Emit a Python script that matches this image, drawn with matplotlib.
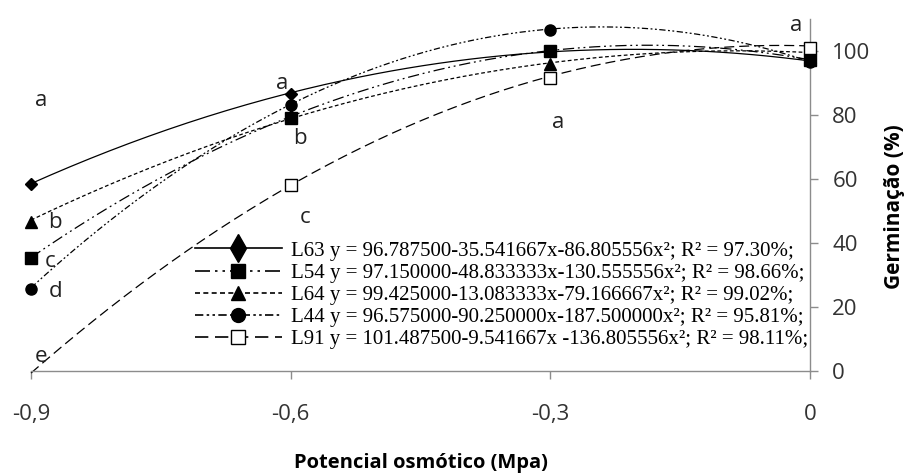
import numpy as np
import matplotlib.pyplot as plt

# potencial osmotico (Mpa)
potencial = [-0.9, -0.6, -0.3, 0.0]

# germinacao (%) observada por lote
L63 = [58.5, 86.5, 99.8, 96.8]
L54 = [35.3, 79.0, 100.0, 97.0]
L64 = [46.5, 80.0, 96.0, 98.0]
L44 = [25.5, 83.0, 106.5, 96.5]
L91 = [0.0, 58.0, 91.5, 101.0]

# coeficientes da regressao (a, b, c) -> y = a + b*x + c*x^2
coef_L63 = [96.7875, -35.541667, -86.805556]
coef_L54 = [97.15, -48.833333, -130.555556]
coef_L64 = [99.425, -13.083333, -79.166667]
coef_L44 = [96.575, -90.25, -187.5]
coef_L91 = [101.4875, -9.541667, -136.805556]

nomes = ["L63 y = 96.787500-35.541667x-86.805556x²; R² = 97.30%;",
         "L54 y = 97.150000-48.833333x-130.555556x²; R² = 98.66%;",
         "L64 y = 99.425000-13.083333x-79.166667x²; R² = 99.02%;",
         "L44 y = 96.575000-90.250000x-187.500000x²; R² = 95.81%;",
         "L91 y = 101.487500-9.541667x -136.805556x²; R² = 98.11%;"]

# letras de comparacao (x, y, texto)
letras_x = [-0.888, -0.872, -0.878, -0.872, -0.889, -0.61, -0.589, -0.583, -0.291, -0.016]
letras_y = [84.3, 46.2, 34.0, 24.6, 4.3, 89.9, 72.7, 48.0, 77.7, 108.0]
letras = ["a", "b", "c", "d", "e", "a", "b", "c", "a", "a"]

sans = ["Open Sans", "DejaVu Sans"]
serif = ["Liberation Serif", "DejaVu Serif"]

fig = plt.figure(figsize=(9.07, 4.75), dpi=100)
ax = fig.add_axes([0.0342, 0.2196, 0.8589, 0.741])

# (valores, coef, marcador, tamanho, preenchimento, estilo, pontos visiveis, marcador legenda, tam legenda)
series = [
    (L63, coef_L63, "D", 6, "black", "-", [0, 1, 2, 3], "d", 14),
    (L54, coef_L54, "s", 8, "black", (0, (9, 3, 1.5, 3, 1.5, 3)), [0, 1, 2, 3], "s", 10),
    (L64, coef_L64, "^", 8, "black", (0, (3, 2)), [0, 1, 2, 3], "^", 10),
    (L44, coef_L44, "o", 8, "black", (0, (5, 2, 1.5, 2, 1.5, 2)), [0, 1, 2, 3], "o", 10),
    (L91, coef_L91, "s", 8, "white", (0, (8, 4)), [1, 2, 3], "s", 10),
]

xs = np.linspace(-0.9, 0, 200)
handles = []
for (vals, c, mk, ms, fc, ls, vis, lmk, lms), nome in zip(series, nomes):
    yfit = c[0] + c[1] * xs + c[2] * xs ** 2
    ax.plot(xs, yfit, color="black", lw=0.9, ls=ls, clip_on=False)
    ax.plot(potencial, vals, ls="none", marker=mk, ms=ms, mfc=fc, mec="black",
            mew=1, markevery=vis, clip_on=False, zorder=5)
    h, = ax.plot([], [], color="black", lw=1.2, ls=ls, marker=lmk,
                 ms=lms, mfc=fc, mec="black")
    handles.append(h)

for x, y, t in zip(letras_x, letras_y, letras):
    ax.text(x, y, t, ha="center", va="center", fontsize=16, family=sans, color="#222222")

leg = ax.legend(handles, nomes, loc="upper left", bbox_to_anchor=(0.21, 0.368),
                frameon=False, prop={"family": serif, "size": 15},
                handlelength=4.2, handletextpad=0.45, labelspacing=0.12,
                borderaxespad=0, borderpad=0)

ax.set_xlim(-0.9, 0)
ax.set_ylim(0, 110)
ax.set_xticks(potencial)
ax.set_xticklabels(["-0,9", "-0,6", "-0,3", "0"])
ax.set_yticks([0, 20, 40, 60, 80, 100])
ax.yaxis.tick_right()
ax.yaxis.set_label_position("right")

for s in ["top", "left"]:
    ax.spines[s].set_visible(False)
for s in ["bottom", "right"]:
    ax.spines[s].set_color("#8c8c8c")
    ax.spines[s].set_linewidth(1)

ax.tick_params(axis="both", colors="#8c8c8c", labelcolor="#333333",
               labelsize=16, length=6, width=1, direction="out")
ax.tick_params(axis="x", pad=18)
ax.tick_params(axis="y", pad=10)
for lb in ax.get_xticklabels() + ax.get_yticklabels():
    lb.set_family(sans)

ax.set_xlabel("Potencial osmótico (Mpa)", fontsize=14.5, fontweight="bold",
              family=sans, labelpad=20)
ax.set_ylabel("Germinação (%)", fontsize=15, fontweight="bold",
              family=sans, labelpad=10)
ax.yaxis.set_label_coords(1.095, 0.465)

fig.savefig("out.png", dpi=100)
